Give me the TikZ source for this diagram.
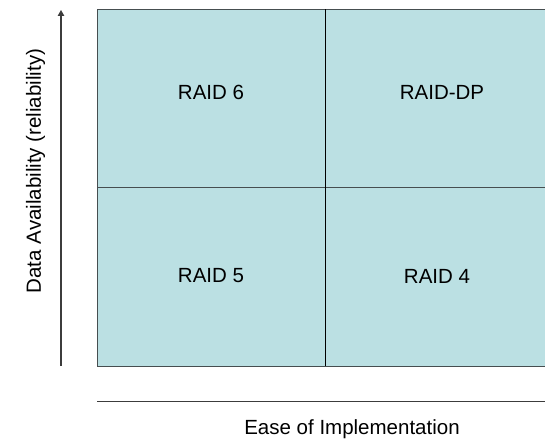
\documentclass[tikz,border=0pt]{standalone}
\usepackage{fontspec}
\setmainfont{Liberation Sans}
\usetikzlibrary{arrows.meta}
\definecolor{cellfill}{RGB}{187,224,227}
\definecolor{edgegray}{RGB}{70,78,80}
\definecolor{axisgray}{RGB}{60,60,60}
\begin{document}
\begin{tikzpicture}[x=1pt,y=-1pt,
  lbl/.style={font=\fontsize{20.5}{24}\selectfont, inner sep=0pt},
  axis/.style={draw=axisgray, line width=1.1pt}]
\useasboundingbox (0,0) rectangle (545,441);
% quadrant grid
\fill[cellfill] (97,9.5) rectangle (548,366);
\draw[edgegray, line width=1pt] (548,9.5) -- (97,9.5) -- (97,366) -- (548,366);
\draw[edgegray, line width=1pt] (97,187.7) -- (548,187.7);
\draw[black, line width=1pt] (325.3,9.5) -- (325.3,366);
% cell labels
\node[lbl] (r6) at (211,92) {RAID 6};
\node[lbl] (rdp) at (442,92) {RAID-DP};
\node[lbl] (r5) at (211,276) {RAID 5};
\node[lbl] (r4) at (437,276) {RAID 4};
% axes
\coordinate (ya) at (61,366);
\coordinate (yb) at (61,10);
\draw[axis, -{Triangle[length=6pt,width=6.5pt]}] (ya) -- (yb);
\coordinate (xa) at (97,401.7);
\coordinate (xb) at (545,401.7);
\draw[axis] (xa) -- (xb);
\node[lbl, rotate=90] (ylab) at (35.5,171) {Data Availability (reliability)};
\node[lbl] (xlab) at (352,429) {Ease of Implementation};
\end{tikzpicture}
\end{document}
